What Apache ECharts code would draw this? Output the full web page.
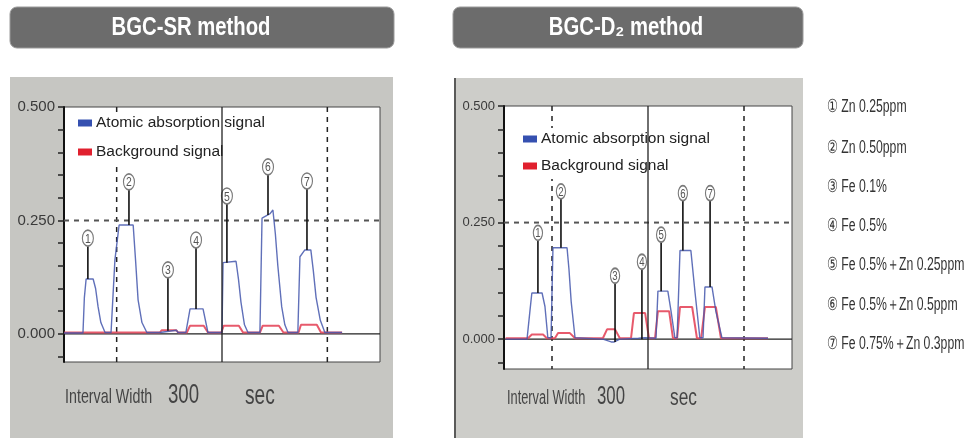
<!DOCTYPE html>
<html><head><meta charset="utf-8">
<script src="https://cdn.jsdelivr.net/npm/echarts@6/dist/echarts.min.js"></script>
<style>html,body{margin:0;padding:0;background:#fff}#c{width:973px;height:440px}</style>
</head><body><div id="c"></div>
<script>
// ---------- data (time in seconds, absorbance) ----------
const panelTitles = ['BGC-SR method', 'BGC-D\u2082 method'];
const seriesNames = ['Atomic absorption signal', 'Background signal'];
const yLabelValues = [0, 0.25, 0.5];
const yTickValues = [-0.05, 0, 0.05, 0.1, 0.15, 0.2, 0.25, 0.3, 0.35, 0.4, 0.45, 0.5];
const intervalWidth = '300';
const intervalLines = [150, 450, 750];

const srAtomic = [[0,0.002],[54,0.002],[58,0.08],[63,0.121],[83,0.121],[90,0.1],[97,0.06],[105,0.025],[117,0.003],[134,0.003],[145,0.163],[157,0.24],[197,0.24],[204,0.16],[211,0.075],[222,0.025],[236,0.003],[273,0.003],[278,0.007],[320,0.008],[325,0.003],[347,0.003],[359,0.055],[396,0.055],[410,0.003],[450,0.003],[453,0.157],[490,0.16],[497,0.12],[504,0.07],[514,0.02],[524,0.003],[558,0.003],[564,0.255],[587,0.265],[595,0.273],[602,0.22],[609,0.15],[620,0.06],[629,0.02],[638,0.003],[666,0.003],[672,0.17],[686,0.185],[703,0.185],[710,0.14],[718,0.08],[730,0.03],[743,0.003],[792,0.003]];
const srBackground = [[0,0.003],[273,0.003],[278,0.008],[320,0.008],[325,0.003],[350,0.003],[359,0.018],[398,0.018],[410,0.003],[448,0.003],[455,0.018],[498,0.018],[510,0.003],[558,0.003],[566,0.018],[612,0.018],[625,0.003],[668,0.003],[675,0.02],[720,0.02],[732,0.003],[792,0.003]];
const d2Atomic = [[5,0.0],[72,0.0],[81,0.06],[87,0.099],[119,0.099],[128,0.07],[137,0.003],[147,0.003],[153,0.196],[197,0.196],[203,0.15],[210,0.08],[222,0.003],[309,0.0],[335,-0.006],[345,-0.006],[362,0.0],[420,0.002],[440,0.003],[475,0.002],[481,0.103],[512,0.103],[522,0.06],[534,0.003],[541,0.003],[550,0.19],[584,0.19],[597,0.1],[612,0.003],[622,0.003],[628,0.112],[650,0.112],[662,0.06],[681,0.003],[825,0.002]];
const d2Background = [[5,0.002],[75,0.002],[87,0.01],[122,0.01],[134,0.002],[159,0.002],[169,0.013],[206,0.013],[222,0.002],[309,0.002],[322,0.021],[347,0.021],[362,0.002],[397,0.002],[406,0.056],[441,0.056],[453,0.002],[472,0.002],[481,0.06],[516,0.06],[528,0.002],[541,0.002],[550,0.069],[588,0.069],[603,0.002],[616,0.002],[628,0.069],[662,0.069],[678,0.002],[825,0.002]];

const sampleNumbers = ['1','2','3','4','5','6','7'];
// [time, label height, peak height]
const srCallouts = [[68,0.211,0.121],[185,0.335,0.24],[296,0.141,0.007],[376,0.207,0.055],[464,0.304,0.157],[581,0.368,0.262],[692,0.337,0.185]];
const d2Callouts = [[106,0.228,0.099],[178,0.317,0.196],[347,0.136,-0.006],[431,0.166,0.0],[491,0.224,0.103],[559,0.313,0.19],[644,0.313,0.112]];

const sampleList = ['\u2460 Zn 0.25ppm','\u2461 Zn 0.50ppm','\u2462 Fe 0.1%','\u2463 Fe 0.5%','\u2464 Fe 0.5%\uff0bZn 0.25ppm','\u2465 Fe 0.5%\uff0bZn 0.5ppm','\u2466 Fe 0.75%\uff0bZn 0.3ppm'];

// ---------- styling ----------
const SANS = "'Liberation Sans',Arial,sans-serif";
const BLUE = '#4457ad', RED = '#e4485c';

const panels = [
  {grid:{left:64, top:107, width:316, height:255}, ymin:-0.062, lab:15, circ:[5.5,8], legend:{left:74, top:112, gap:11}},
  {grid:{left:504, top:106, width:288, height:263}, ymin:-0.064, lab:13, circ:[4.6,7.5], legend:{left:519, top:128, gap:9}}
];
const atomicData = [srAtomic, d2Atomic];
const bgData = [srBackground, d2Background];
const callouts = [srCallouts, d2Callouts];

const chart = echarts.init(document.getElementById('c'), null, {renderer:'canvas'});

const grids = [], xAxes = [], yAxes = [], series = [], legends = [];
panels.forEach((p, i) => {
  grids.push(Object.assign({show:true, backgroundColor:'#fff', borderColor:'#444', borderWidth:1}, p.grid));
  xAxes.push({type:'value', gridIndex:i, min:0, max:900, show:false});
  yAxes.push({type:'value', gridIndex:i, min:p.ymin, max:0.5,
    splitLine:{show:false},
    axisLine:{show:true, onZero:false, lineStyle:{color:'#111', width:2}},
    axisTick:{show:true, inside:false, length:6, customValues:yTickValues, lineStyle:{color:'#222', width:1.5}},
    axisLabel:{show:true, margin:9, customValues:yLabelValues, color:'#3a3a3a', fontFamily:SANS, fontSize:p.lab,
      formatter:v => v.toFixed(3)}
  });
  series.push({type:'custom', xAxisIndex:i, yAxisIndex:i, z:1, silent:true,
    data:[[0]],
    renderItem:(params, api) => {
      const cs = params.coordSys;
      const ch = [];
      [intervalLines[0], intervalLines[2]].forEach(t => {
        const x = api.coord([t, 0])[0];
        ch.push({type:'line', shape:{x1:x, y1:cs.y, x2:x, y2:cs.y+cs.height}, style:{stroke:'#222', lineWidth:1.5, lineDash:[5,5]}});
      });
      const y25 = api.coord([0, 0.25])[1];
      ch.push({type:'line', shape:{x1:cs.x, y1:y25, x2:cs.x+cs.width, y2:y25}, style:{stroke:'#555', lineWidth:2, lineDash:[5,5]}});
      const y0 = api.coord([0, 0])[1];
      ch.push({type:'line', shape:{x1:cs.x, y1:y0, x2:cs.x+cs.width, y2:y0}, style:{stroke:'#222', lineWidth:1.2}});
      return {type:'group', children:ch};
    }});
  series.push({type:'custom', xAxisIndex:i, yAxisIndex:i, z:6, silent:true,
    data:[[intervalLines[1]]],
    renderItem:(params, api) => {
      const cs = params.coordSys;
      const x = api.coord([api.value(0), 0])[0];
      return {type:'line', shape:{x1:x, y1:cs.y, x2:x, y2:cs.y+cs.height}, style:{stroke:'#222', lineWidth:1.3}};
    }});
  series.push({name:seriesNames[1], type:'line', xAxisIndex:i, yAxisIndex:i, z:3, data:bgData[i],
    showSymbol:false, smooth:false, lineStyle:{color:RED, width:2, opacity:0.9}, itemStyle:{color:'#e0202e'}});
  series.push({name:seriesNames[0], type:'line', xAxisIndex:i, yAxisIndex:i, z:3, data:atomicData[i],
    showSymbol:false, smooth:false, lineStyle:{color:BLUE, width:1.4, opacity:0.85}, itemStyle:{color:'#3550b0'}});
  const cr = p.circ;
  series.push({type:'custom', xAxisIndex:i, yAxisIndex:i, z:5, silent:true, data:callouts[i],
    renderItem:(params, api) => {
      const top = api.coord([api.value(0), api.value(1)]);
      const bot = api.coord([api.value(0), api.value(2)]);
      const lab = sampleNumbers[params.dataIndex];
      return {type:'group', children:[
        {type:'line', shape:{x1:top[0], y1:top[1]+cr[1], x2:top[0], y2:bot[1]}, style:{stroke:'#111', lineWidth:1.6}},
        {type:'circle', x:top[0], y:top[1], scaleY:cr[1]/cr[0], shape:{cx:0, cy:0, r:cr[0]}, style:{fill:'#fff', stroke:'#7a7a7a', lineWidth:1.1}},
        {type:'text', x:top[0], y:top[1]+1, scaleX:0.8, style:{text:lab, fill:'#555', font:(i===0?'13px ':'12px ')+SANS, align:'center', verticalAlign:'middle'}}
      ]};
    }});
  legends.push({orient:'vertical', left:p.legend.left, top:p.legend.top, z:4, padding:[2,4,4,4],
    backgroundColor:'#fff', itemGap:p.legend.gap, itemWidth:14, itemHeight:7, icon:'rect', selectedMode:false,
    data:[{name:seriesNames[0], itemStyle:{color:'#3550b0'}}, {name:seriesNames[1], itemStyle:{color:'#e0202e'}}],
    textStyle:{fontFamily:SANS, fontSize:15.5, color:'#222', lineHeight:18, padding:[0,0,0,-1]}});
});

function txt(x, y, s, size, sx, color, extra) {
  return {type:'text', x:x, y:y, scaleX:sx, style:Object.assign({text:s, fill:color, font:size+'px '+SANS, verticalAlign:'middle'}, extra || {})};
}
const graphics = [
  {type:'rect', z:-10, shape:{x:10, y:77, width:383, height:361}, style:{fill:'#c6c6c2'}},
  {type:'rect', z:-10, shape:{x:454, y:78, width:349, height:360}, style:{fill:'#cdcdc9'}},
  {type:'line', z:-9, shape:{x1:455, y1:78, x2:455, y2:438}, style:{stroke:'#333', lineWidth:1.5}},
  {type:'rect', z:-10, shape:{x:10, y:7, width:384, height:41, r:7}, style:{fill:'#6c6c6c', stroke:'#9a9a9a', lineWidth:1}},
  {type:'rect', z:-10, shape:{x:453, y:7, width:350, height:41, r:7}, style:{fill:'#6c6c6c', stroke:'#9a9a9a', lineWidth:1}},
  txt(191, 28, panelTitles[0], 26, 0.78, '#fff', {font:'bold 26px '+SANS, align:'center'}),
  txt(626, 28, panelTitles[1], 26, 0.78, '#fff', {font:'bold 26px '+SANS, align:'center'}),
  txt(65, 397, 'Interval Width', 21, 0.68, '#444'),
  txt(168, 396, intervalWidth, 27, 0.69, '#444'),
  txt(245, 397, 'sec', 27, 0.71, '#444'),
  txt(507, 398, 'Interval Width', 20, 0.64, '#444'),
  txt(597, 397, intervalWidth, 25, 0.67, '#444'),
  txt(670, 398, 'sec', 24, 0.72, '#444')
];
const listY = [107, 148, 187, 226, 265, 305, 344];
sampleList.forEach((s, k) => {
  graphics.push(txt(827, listY[k], s, 18, 0.68, '#333'));
});

chart.setOption({
  animation:false,
  backgroundColor:'#fff',
  grid:grids, xAxis:xAxes, yAxis:yAxes, series:series, legend:legends,
  graphic:{elements:graphics}
});
</script></body></html>
